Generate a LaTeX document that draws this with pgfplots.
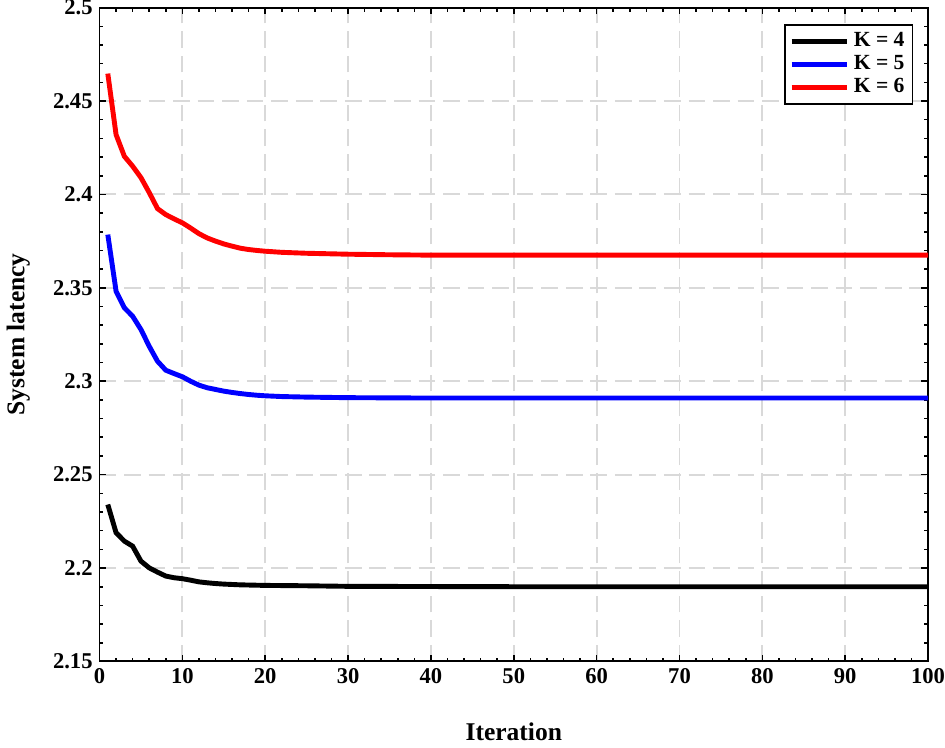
\documentclass[border=0pt]{standalone}
\usepackage{fontspec}
\setmainfont{Liberation Serif}
\usepackage{pgfplots}
\pgfplotsset{compat=1.18}

\definecolor{gridgray}{RGB}{217,217,217}

\begin{document}
\begin{tikzpicture}
\begin{axis}[
    width=422pt, height=333pt,
    scale only axis,
    xmin=0, xmax=100,
    ymin=2.15, ymax=2.5,
    xtick={0,10,...,100},
    ytick={2.15,2.2,2.25,2.3,2.35,2.4,2.45,2.5},
    yticklabels={2.15,2.2,2.25,2.3,2.35,2.4,2.45,2.5},
    minor x tick num=4,
    minor y tick num=4,
    tick align=inside,
    major tick length=3.5pt,
    minor tick length=2pt,
    every tick/.style={black, line width=0.8pt},
    axis line style={line width=1pt},
    grid=major,
    major grid style={gridgray, line width=1pt, dash pattern=on 8.5pt off 4pt},
    /pgf/number format/assume math mode=true,
    tick label style={font=\fontsize{11.5}{13}\selectfont\bfseries},
    xticklabel style={inner xsep=0pt},
    yticklabel style={inner ysep=0pt},
    xlabel={Iteration},
    ylabel={System latency},
    label style={font=\fontsize{13}{15}\selectfont\bfseries},
    xlabel style={yshift=-13pt},
    ylabel style={yshift=5pt},
    legend style={at={(0.982,0.975)}, anchor=north east, draw=black, line width=0.8pt,
        font=\fontsize{11}{13}\selectfont\bfseries, row sep=-1pt, inner sep=2pt},
    legend cell align=left,
    legend image code/.code={\draw[#1, line width=2.5pt] (0cm,0cm) -- (1cm,0cm);},
    clip=true,
]
\addplot[black, line width=2.5pt] coordinates {
(1,2.234) (2,2.2189) (3,2.2144) (4,2.2117) (5,2.2037) (6,2.2001) (7,2.1978)
(8,2.1957) (9,2.1948) (10,2.1943) (11,2.1935) (12,2.1926) (13,2.1921) (14,2.1917)
(15,2.1914) (16,2.1912) (17,2.1910) (18,2.1909) (19,2.1908) (20,2.1907)
(25,2.1905) (30,2.1902) (40,2.1901) (50,2.1900) (60,2.1900) (70,2.1900)
(80,2.1900) (90,2.1900) (100,2.1900)
};
\addlegendentry{K = 4}
\addplot[blue, line width=2.5pt] coordinates {
(1,2.3785) (2,2.3482) (3,2.3393) (4,2.3348) (5,2.3277) (6,2.3187) (7,2.3107)
(8,2.3059) (9,2.3041) (10,2.3024) (11,2.3000) (12,2.2979) (13,2.2965) (14,2.2956)
(15,2.2947) (16,2.2940) (17,2.2934) (18,2.2929) (19,2.2925) (20,2.2922)
(22,2.2918) (25,2.2915) (30,2.2912) (40,2.2910) (50,2.2910) (60,2.2910)
(70,2.2910) (80,2.2910) (90,2.2910) (100,2.2910)
};
\addlegendentry{K = 5}
\addplot[red, line width=2.5pt] coordinates {
(1,2.4647) (2,2.4320) (3,2.4204) (4,2.4151) (5,2.4090) (6,2.4010) (7,2.3924)
(8,2.3892) (9,2.3869) (10,2.3848) (11,2.3820) (12,2.3790) (13,2.3767) (14,2.3750)
(15,2.3735) (16,2.3723) (17,2.3712) (18,2.3705) (19,2.3700) (20,2.3696)
(22,2.3690) (25,2.3685) (30,2.3680) (35,2.3677) (40,2.3675) (50,2.3675)
(60,2.3675) (70,2.3675) (80,2.3675) (90,2.3675) (100,2.3675)
};
\addlegendentry{K = 6}
\end{axis}
\end{tikzpicture}
\end{document}
